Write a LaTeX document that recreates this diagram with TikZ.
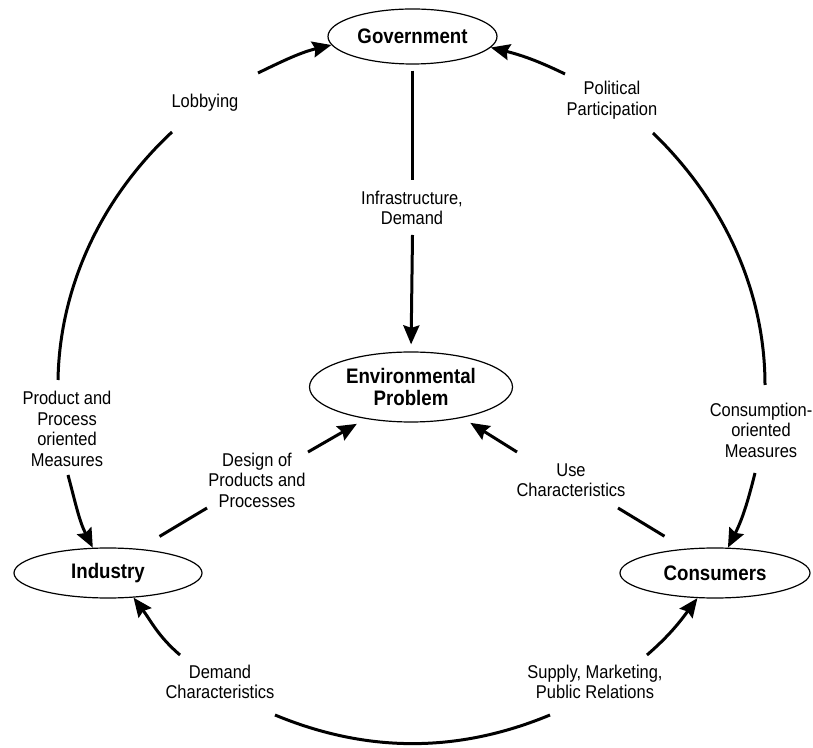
\documentclass[tikz,border=0pt]{standalone}
\usepackage{fontspec}
\usetikzlibrary{shapes.geometric,arrows.meta}
\newfontfamily\lbsans[FakeStretch=0.89]{Liberation Sans}
\newcommand\mylabfont{\fontsize{18.5}{20.5}\selectfont\lbsans}
\newcommand\mytitlefont{\fontsize{21}{22}\selectfont\lbsans\bfseries}
\begin{document}
\begin{tikzpicture}[x=1pt,y=1pt,
  box/.style={ellipse, draw, line width=1.2pt, inner sep=0pt, font=\mytitlefont, align=center},
  conn/.style={line width=3pt},
  arr/.style={conn, -{Stealth[length=19pt,width=16pt,inset=2.5pt]}},
  lab/.style={font=\mylabfont, align=center, inner sep=0pt}]
\useasboundingbox (0,0) rectangle (813,747);
% main nodes
\node[box, minimum width=169, minimum height=55] (gov) at (412.5,710.5) {Government};
\node[box, minimum width=203, minimum height=70] (env) at (411,360) {Environmental\\Problem};
\node[box, minimum width=188, minimum height=50] (ind) at (108,174) {Industry};
\node[box, minimum width=190, minimum height=50] (cons) at (715,174) {Consumers};
% gap coordinates
\coordinate (g1) at (412.5,567);
\coordinate (g2) at (412.5,512);
\coordinate (d1) at (207,239);
\coordinate (d2) at (308,295);
\coordinate (u1) at (618,239);
\coordinate (u2) at (517,295);
\coordinate (l1) at (68,272);
\coordinate (l2) at (58,367);
\coordinate (l3) at (172,615);
\coordinate (l4) at (258,674);
\coordinate (r1) at (565,673);
\coordinate (r2) at (653,614);
\coordinate (r3) at (765,362);
\coordinate (r4) at (755,274);
\coordinate (b1) at (180,92);
\coordinate (b2) at (275,32);
\coordinate (b3) at (550,32);
\coordinate (b4) at (647,92);
% straight connectors
\draw[conn, shorten <=6pt] (gov.south) -- (g1);
\draw[arr, shorten >=7pt] (g2) -- (env.north);
\draw[conn, shorten <=24pt] (ind.38) -- (d1);
\draw[arr, shorten >=10pt] (d2) -- (env.215);
\draw[conn, shorten <=24pt] (cons.141) -- (u1);
\draw[arr, shorten >=9.5pt] (u2) -- (env.329);
% left arc
\draw[arr] (l1) to[out=285,in=117] (ind.121);
\draw[conn] (l2) to[out=89,in=223,looseness=0.89] (l3);
\draw[arr] (l4) to[out=26,in=193.5] (gov.186);
% right arc
\draw[arr] (r1) to[out=154,in=346] (gov.352);
\draw[conn] (r2) to[out=-44,in=90,looseness=0.89] (r3);
\draw[arr] (r4) to[out=-104,in=63] (cons.63);
% bottom arc
\draw[arr] (b1) to[out=139.5,in=307] (ind.316);
\draw[conn] (b2) to[out=-22.5,in=202.5,looseness=0.93] (b3);
\draw[arr] (b4) to[out=41,in=233.5] (cons.235);
% labels
\node[lab] (tlob) at (205,644) {Lobbying};
\node[lab] (tpol) at (612,647) {Political\\Participation};
\node[lab] (tinf) at (412,539) {Infrastructure,\\Demand};
\node[lab] (tppm) at (67,318) {Product and\\Process\\oriented\\Measures};
\node[lab] (tcom) at (761,317) {Consumption-\\oriented\\Measures};
\node[lab] (tdes) at (257,267) {Design of\\Products and\\Processes};
\node[lab] (tuse) at (571,267) {Use\\Characteristics};
\node[lab] (tdem) at (220,65) {Demand\\Characteristics};
\node[lab] (tsup) at (595,65) {Supply, Marketing,\\Public Relations};
\end{tikzpicture}
\end{document}
